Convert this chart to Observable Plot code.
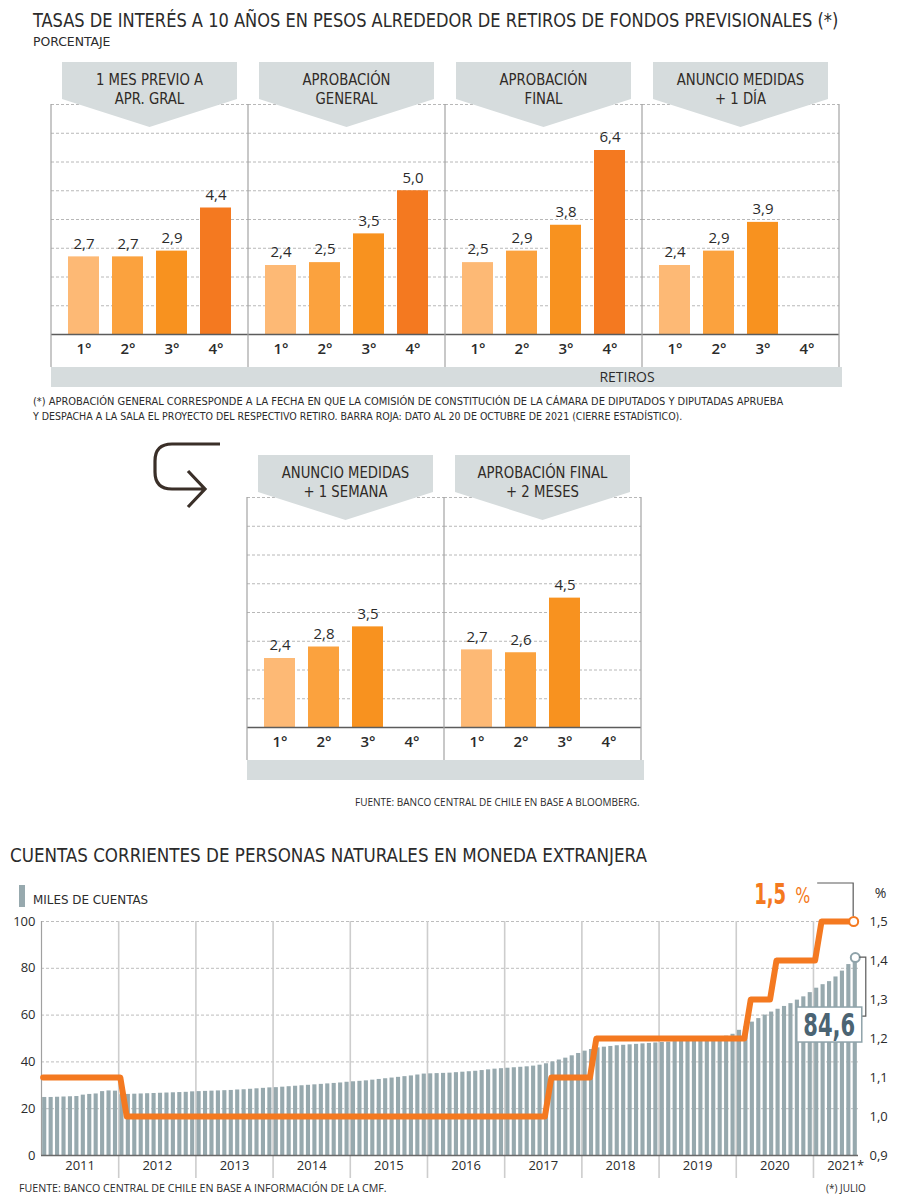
<!DOCTYPE html>
<html><head><meta charset="utf-8">
<script src="https://cdn.jsdelivr.net/npm/d3@7"></script>
<script src="https://cdn.jsdelivr.net/npm/@observablehq/plot@0.6"></script>
<style>
body{margin:0;background:#fff;}
#root{position:relative;width:900px;height:1202px;overflow:hidden;color:#2b2b2b;}
.abs{position:absolute;white-space:nowrap;line-height:1;}
svg{position:absolute;left:0;}
</style></head>
<body><div id="root"></div>
<script>
// ---------- DATA: top charts ----------
const retiros = ["1°","2°","3°","4°"];
const panelsTop = ["1 MES PREVIO A|APR. GRAL", "APROBACIÓN|GENERAL", "APROBACIÓN|FINAL", "ANUNCIO MEDIDAS|+ 1 DÍA"];
const panelsBottom = ["ANUNCIO MEDIDAS|+ 1 SEMANA", "APROBACIÓN FINAL|+ 2 MESES"];
const tasasMesPrevio = [2.7, 2.7, 2.9, 4.4];
const tasasAprobGeneral = [2.4, 2.5, 3.5, 5.0];
const tasasAprobFinal = [2.5, 2.9, 3.8, 6.4];
const tasasAnuncio1Dia = [2.4, 2.9, 3.9, null];
const tasasAnuncio1Semana = [2.4, 2.8, 3.5, null];
const tasasAprobFinal2Meses = [2.7, 2.6, 4.5, null];
const retiroColors = ["#fdb975", "#fba23e", "#f8921f", "#f47920"];
const gridTicksTop = [1, 2, 3, 4, 5, 6, 7, 8];

// ---------- DATA: bottom chart (monthly, Jan 2011 - Jul 2021) ----------
const years = ["2011","2012","2013","2014","2015","2016","2017","2018","2019","2020","2021*"];
const yearLabelPos = [6, 18, 30, 42, 54, 66, 78, 90, 102, 114, 125];
const cuentas2011 = [24.8, 24.8, 24.9, 25.0, 25.1, 25.2, 25.8, 26.1, 26.3, 27.3, 27.6, 27.5];
const cuentas2012 = [26.0, 26.1, 26.2, 26.3, 26.4, 26.5, 26.6, 26.7, 26.8, 26.9, 27.0, 27.2];
const cuentas2013 = [27.3, 27.4, 27.5, 27.6, 27.7, 27.8, 28.0, 28.1, 28.3, 28.5, 28.7, 28.9];
const cuentas2014 = [29.0, 29.2, 29.4, 29.6, 29.8, 30.0, 30.2, 30.4, 30.6, 30.8, 31.0, 31.3];
const cuentas2015 = [31.5, 31.7, 31.9, 32.2, 32.5, 32.8, 33.1, 33.4, 33.7, 34.0, 34.4, 34.8];
const cuentas2016 = [34.9, 35.0, 35.1, 35.2, 35.4, 35.6, 35.8, 36.0, 36.3, 36.6, 36.9, 37.1];
const cuentas2017 = [37.3, 37.5, 37.7, 37.9, 38.2, 38.6, 39.2, 40.0, 40.8, 41.6, 42.6, 43.6];
const cuentas2018 = [44.6, 45.3, 46.0, 46.3, 46.6, 46.9, 47.1, 47.3, 47.5, 47.7, 47.9, 48.1];
const cuentas2019 = [48.3, 48.5, 48.7, 48.9, 49.1, 49.3, 49.5, 49.7, 50.0, 50.4, 51.0, 51.8];
const cuentas2020 = [53.5, 55.0, 57.0, 58.5, 60.0, 61.3, 62.5, 63.7, 64.9, 66.4, 67.8, 69.6];
const cuentas2021 = [71.5, 73.0, 74.3, 76.3, 78.8, 81.6, 84.6];
const tasa2011 = [1.1, 1.1, 1.1, 1.1, 1.1, 1.1, 1.1, 1.1, 1.1, 1.1, 1.1, 1.1];
const tasa2012 = [1.1, 1.0, 1.0, 1.0, 1.0, 1.0, 1.0, 1.0, 1.0, 1.0, 1.0, 1.0];
const tasa2013 = [1.0, 1.0, 1.0, 1.0, 1.0, 1.0, 1.0, 1.0, 1.0, 1.0, 1.0, 1.0];
const tasa2014 = [1.0, 1.0, 1.0, 1.0, 1.0, 1.0, 1.0, 1.0, 1.0, 1.0, 1.0, 1.0];
const tasa2015 = [1.0, 1.0, 1.0, 1.0, 1.0, 1.0, 1.0, 1.0, 1.0, 1.0, 1.0, 1.0];
const tasa2016 = [1.0, 1.0, 1.0, 1.0, 1.0, 1.0, 1.0, 1.0, 1.0, 1.0, 1.0, 1.0];
const tasa2017 = [1.0, 1.0, 1.0, 1.0, 1.0, 1.0, 1.0, 1.1, 1.1, 1.1, 1.1, 1.1];
const tasa2018 = [1.1, 1.1, 1.2, 1.2, 1.2, 1.2, 1.2, 1.2, 1.2, 1.2, 1.2, 1.2];
const tasa2019 = [1.2, 1.2, 1.2, 1.2, 1.2, 1.2, 1.2, 1.2, 1.2, 1.2, 1.2, 1.2];
const tasa2020 = [1.2, 1.2, 1.3, 1.3, 1.3, 1.3, 1.4, 1.4, 1.4, 1.4, 1.4, 1.4];
const tasa2021 = [1.4, 1.5, 1.5, 1.5, 1.5, 1.5, 1.5];
const leftTicks = [0, 20, 40, 60, 80, 100];
const rightTicks = [0.9, 1.0, 1.1, 1.2, 1.3, 1.4, 1.5];
const rightDomain = [0.9, 1.5];

const cuentas = [...cuentas2011, ...cuentas2012, ...cuentas2013, ...cuentas2014, ...cuentas2015, ...cuentas2016, ...cuentas2017, ...cuentas2018, ...cuentas2019, ...cuentas2020, ...cuentas2021];
const tasa = [...tasa2011, ...tasa2012, ...tasa2013, ...tasa2014, ...tasa2015, ...tasa2016, ...tasa2017, ...tasa2018, ...tasa2019, ...tasa2020, ...tasa2021];

// ---------- helpers ----------
const F_COND = '"Liberation Sans Narrow","DejaVu Sans Condensed","Roboto Condensed","Noto Sans",sans-serif';
const F_REG = '"Open Sans","Noto Sans",sans-serif';
const INK = "#2b2b2b";
const fmt = v => v.toFixed(1).replace(".", ",");
const root = document.getElementById("root");

function addText(txt, {x, y, size, weight = 400, family = F_COND, color = INK, anchor = "start", width = null}) {
  const d = document.createElement("div");
  d.className = "abs";
  d.textContent = txt;
  Object.assign(d.style, {left: x + "px", top: y + "px", fontSize: size + "px", fontWeight: weight, fontFamily: family, color,
    transformOrigin: anchor === "end" ? "right center" : "left center"});
  root.appendChild(d);
  d.style.top = (y - d.offsetHeight / 2) + "px";
  if (anchor === "end") d.style.left = (x - d.offsetWidth) + "px";
  if (width) d.style.transform = `scaleX(${width / d.offsetWidth})`;
  return d;
}
// svg text placed at (x,y), horizontally scaled to a width or by a factor
function svgText(svg, txt, {x, y, size, anchor = "middle", weight = 400, family = F_COND, fill = INK, width = null, factor = null}) {
  const t = svg.append("text").attr("x", 0).attr("y", 0).attr("dy", "0.35em")
    .attr("text-anchor", anchor).attr("font-family", family).attr("font-weight", weight)
    .attr("font-size", size).attr("fill", fill).text(txt);
  let s = 1;
  const len = t.node().getComputedTextLength();
  if (width != null) s = width / len;
  else if (factor != null) s = factor;
  t.attr("transform", `translate(${x},${y}) scale(${s},1)`);
  return t;
}

function panelPlot(panels, series, {top, left, right, retirosLabel}) {
  const rows = [];
  panels.forEach((p, pi) => retiros.forEach((r, ri) => rows.push({panel: p, retiro: r, value: series[pi][ri]})));
  const withValue = rows.filter(d => d.value != null);
  const plot = Plot.plot({
    width: 900, height: 340,
    marginTop: 48, marginBottom: 62, marginLeft: left, marginRight: 900 - right,
    fx: {domain: panels, padding: 0, axis: null, label: null},
    x: {domain: retiros, paddingInner: 0.295, paddingOuter: 0.386, axis: null, label: null},
    y: {domain: [0, 8], axis: null},
    color: {domain: retiros, range: retiroColors},
    style: {fontFamily: F_REG, background: "transparent", overflow: "visible", color: INK},
    marks: [
      Plot.ruleY(gridTicksTop, {stroke: "#b8b8b8", strokeDasharray: "3,2", strokeWidth: 1}),
      Plot.barY(withValue, {fx: "panel", x: "retiro", y: "value", fill: "retiro"}),
      Plot.ruleY([0], {stroke: "#5c5c5c", strokeWidth: 1.6}),
      Plot.text(withValue, {fx: "panel", x: "retiro", y: "value", text: d => fmt(d.value), dy: -13, fontSize: 15, fill: INK}),
      Plot.text(rows, {fx: "panel", x: "retiro", text: "retiro", frameAnchor: "bottom", dy: 19, fontSize: 15, fontWeight: 600, fill: INK})
    ]
  });
  plot.style.top = top + "px";
  root.appendChild(plot);
  const fx = plot.scale("fx"), y = plot.scale("y");
  const svg = d3.select(plot);
  const bw = fx.bandwidth;
  const yT = y.apply(8), y0 = y.apply(0);
  const edges = panels.map(p => fx.apply(p)).concat([fx.apply(panels[panels.length - 1]) + bw]);
  const L = edges[0], R = edges[edges.length - 1];
  svg.append("rect").attr("x", L).attr("y", y0 + 33).attr("width", R - L + 3).attr("height", 20).attr("fill", "#d6dcdd");
  svg.selectAll(null).data(edges).join("line")
    .attr("x1", d => d).attr("x2", d => d).attr("y1", yT).attr("y2", y0 + 33)
    .attr("stroke", "#a3a3a3").attr("stroke-width", 1.2);
  panels.forEach(p => {
    const x0 = fx.apply(p), xm = x0 + bw / 2, a = x0 + 11, b = x0 + bw - 11;
    svg.append("polygon")
      .attr("points", `${a},${yT - 42} ${b},${yT - 42} ${b},${yT - 5} ${xm},${yT + 23} ${a},${yT - 5}`)
      .attr("fill", "#d6dcdd");
    p.split("|").forEach((line, k) => {
      svgText(svg, line, {x: xm, y: yT - 25 + k * 19, size: 16, fill: "#2f2a26", factor: 0.92});
    });
  });
  if (retirosLabel) {
    svgText(svg, retirosLabel, {x: fx.apply(panels[3]) - 15, y: y0 + 43, size: 14, family: F_REG});
  }
  return {plot, svg, edges, yT};
}

// ---------- texts top ----------
addText("TASAS DE INTERÉS A 10 AÑOS EN PESOS ALREDEDOR DE RETIROS DE FONDOS PREVISIONALES (*)", {x: 33, y: 20, size: 20, weight: 300, width: 805});
addText("PORCENTAJE", {x: 33, y: 42, size: 12, width: 77});

panelPlot(panelsTop, [tasasMesPrevio, tasasAprobGeneral, tasasAprobFinal, tasasAnuncio1Dia], {top: 56, left: 51, right: 839, retirosLabel: "RETIROS"});

addText("(*) APROBACIÓN GENERAL CORRESPONDE A LA FECHA EN QUE LA COMISIÓN DE CONSTITUCIÓN DE LA CÁMARA DE DIPUTADOS Y DIPUTADAS APRUEBA", {x: 33, y: 401, size: 11, width: 750});
addText("Y DESPACHA A LA SALA EL PROYECTO DEL RESPECTIVO RETIRO. BARRA ROJA: DATO AL 20 DE OCTUBRE DE 2021 (CIERRE ESTADÍSTICO).", {x: 33, y: 416, size: 11, width: 649});

const row2 = panelPlot(panelsBottom, [tasasAnuncio1Semana, tasasAprobFinal2Meses], {top: 449, left: 247, right: 641});
{
  const tip = row2.edges[0] - 42, yT = row2.yT;
  row2.svg.append("path")
    .attr("d", `M${tip + 15},${yT - 53} H${tip - 33} Q${tip - 50},${yT - 53} ${tip - 50},${yT - 36} V${yT - 25} Q${tip - 50},${yT - 8} ${tip - 33},${yT - 8} H${tip} M${tip - 17},${yT - 26} L${tip},${yT - 8} L${tip - 17},${yT + 10}`)
    .attr("fill", "none").attr("stroke", "#3a2f28").attr("stroke-width", 3.2);
}
addText("FUENTE: BANCO CENTRAL DE CHILE EN BASE A BLOOMBERG.", {x: 640, y: 802, size: 10, family: F_REG, anchor: "end", width: 285});

// ---------- bottom chart ----------
addText("CUENTAS CORRIENTES DE PERSONAS NATURALES EN MONEDA EXTRANJERA", {x: 10, y: 855, size: 20, weight: 300, width: 637});
{
  const sw = document.createElement("div");
  Object.assign(sw.style, {position: "absolute", left: "19px", top: "885px", width: "6px", height: "22px", background: "#97a9ae"});
  root.appendChild(sw);
}
addText("MILES DE CUENTAS", {x: 33, y: 899, size: 13, width: 115});

const toLeft = r => (r - rightDomain[0]) / (rightDomain[1] - rightDomain[0]) * 100;
const months = cuentas.map((v, i) => ({i, v, r: tasa[i]}));
const last = months[months.length - 1];
const yearStarts = years.slice(1).map((_, k) => (k + 1) * 12);

const bottom = Plot.plot({
  width: 900, height: 340,
  marginTop: 61, marginBottom: 45, marginLeft: 41, marginRight: 42,
  x: {domain: [0, cuentas.length], axis: null},
  y: {domain: [0, 100], axis: null},
  style: {fontFamily: F_REG, background: "transparent", overflow: "visible", color: INK},
  marks: [
    Plot.ruleY(leftTicks.filter(t => t > 0), {stroke: "#bdbdbd", strokeDasharray: "3,2"}),
    Plot.ruleX(yearStarts, {stroke: "#cdcdcd", strokeWidth: 1.6, insetBottom: -23}),
    Plot.rectY(months, {x1: d => d.i + 0.18, x2: d => d.i + 0.82, y: "v", fill: "#97a9ae"}),
    Plot.ruleX([0], {stroke: "#a0a0a0", strokeWidth: 1.2}),
    Plot.ruleY([0], {stroke: "#6a6a6a", strokeWidth: 1.6}),
    Plot.line(months, {x: d => d.i + 0.25, y: d => toLeft(d.r), stroke: "#f47920", strokeWidth: 6}),
    Plot.dot([last], {x: d => d.i + 0.25, y: d => toLeft(d.r), r: 4.5, fill: "white", stroke: "#f47920", strokeWidth: 2}),
    Plot.dot([last], {x: d => d.i + 0.5, y: "v", r: 4.5, fill: "white", stroke: "#8fa3aa", strokeWidth: 2}),
    Plot.text(leftTicks, {y: d => d, text: d => String(d), frameAnchor: "left", dx: -6, textAnchor: "end", fontSize: 13, fill: INK}),
    Plot.text(rightTicks, {y: d => toLeft(d), text: d => fmt(d), frameAnchor: "right", dx: 11, textAnchor: "start", fontSize: 13, fill: INK}),
    Plot.text(["%"], {frameAnchor: "top-right", dx: 22, dy: -33, textAnchor: "middle", fontSize: 14, fill: INK}),
    Plot.text(years, {x: (d, k) => yearLabelPos[k], text: d => d, frameAnchor: "bottom", dy: 14, fontSize: 13, fill: INK})
  ]
});
bottom.style.top = "860px";
root.appendChild(bottom);
{
  const xs = bottom.scale("x"), ys = bottom.scale("y");
  const svg = d3.select(bottom);
  const ox = xs.apply(last.i + 0.25), oy = ys.apply(toLeft(last.r));
  svg.append("path").attr("d", `M${ox - 36},${oy - 38} H${ox} V${oy - 5}`).attr("fill", "none").attr("stroke", "#5a5a5a").attr("stroke-width", 1.2);
  svgText(svg, fmt(last.r), {x: ox - 67, y: oy - 27, size: 29, anchor: "end", weight: 700, fill: "#f47920", width: 32});
  svgText(svg, "%", {x: ox - 58, y: oy - 26, size: 22, anchor: "start", fill: "#f47920", width: 15});
  const gx = xs.apply(last.i + 0.5), gy = ys.apply(last.v);
  svg.append("path").attr("d", `M${gx + 4.5},${gy} H${gx + 11} V${gy + 59} H${gx + 7}`).attr("fill", "none").attr("stroke", "#5a5a5a").attr("stroke-width", 1.2);
  svg.append("rect").attr("x", gx - 58).attr("y", gy + 50).attr("width", 65).attr("height", 35)
    .attr("fill", "white").attr("stroke", "#8fa3aa").attr("stroke-width", 1.5);
  svgText(svg, fmt(last.v), {x: gx - 25.5, y: gy + 68, size: 32, weight: 700, fill: "#4b6473", width: 52});
}
addText("FUENTE: BANCO CENTRAL DE CHILE EN BASE A INFORMACIÓN DE LA CMF.", {x: 19, y: 1188, size: 10, family: F_REG, width: 368});
addText("(*) JULIO", {x: 866, y: 1188, size: 10, family: F_REG, anchor: "end", width: 40});
</script>
</body></html>
